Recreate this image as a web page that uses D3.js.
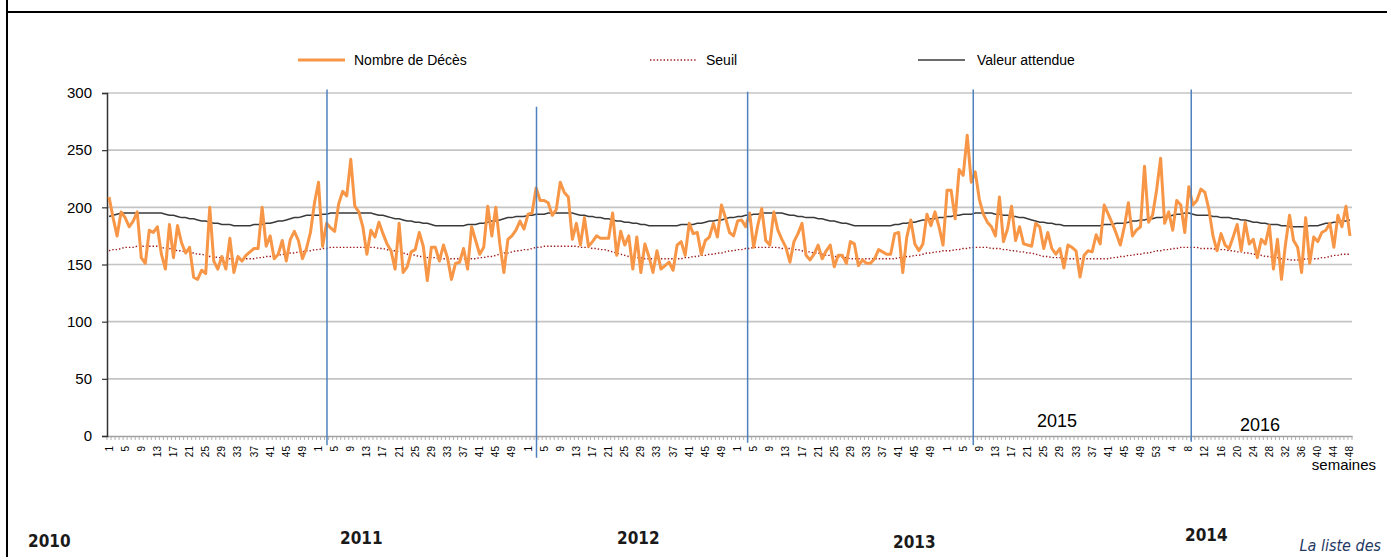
<!DOCTYPE html>
<html>
<head>
<meta charset="utf-8">
<script src="https://cdn.jsdelivr.net/npm/d3@7"></script>
<style>
  body { margin: 0; background: #fff; }
  svg { display: block; font-family: "Liberation Sans", Arial, sans-serif; }
</style>
</head>
<body>
<svg id="chart"></svg>
<script>
// weeks per year on the category axis
const yearLengths = [52, 52, 52, 52, 53, 48];

// weekly deaths
const deces = [
  209,191,175,196,191,183,188,196,156,151, 180,178,183,159,146,185,156,184,169,160,
  165,139,137,145,142,200,153,146,157,146, 173,143,157,153,158,161,164,164,200,166,
  175,155,159,171,153,172,179,171,155,164, 178,204,222,166,186,182,179,203,214,210,
  242,201,196,183,159,180,174,187,177,168, 162,146,186,143,148,161,163,178,166,136,
  165,165,153,167,156,137,151,152,164,146, 183,171,159,165,201,175,200,168,143,172,
  175,180,188,181,194,195,217,206,206,204, 193,198,222,213,209,172,186,167,191,166,
  170,175,173,173,173,195,158,179,167,175, 146,174,143,168,157,143,162,146,149,152,
  145,167,170,158,186,177,178,159,171,174, 186,174,202,191,178,175,188,189,183,195,
  165,184,199,171,167,196,180,172,165,152, 170,177,186,158,154,159,167,155,162,167,
  148,158,158,151,170,168,149,154,151,151, 155,163,161,159,159,177,178,143,174,189,
  168,162,168,194,184,196,183,167,215,215, 190,233,228,263,222,231,207,194,187,183,
  175,209,170,181,201,171,183,168,167,166, 186,183,164,178,164,159,164,147,167,165,
  162,139,158,162,161,176,168,202,194,186, 177,167,183,204,175,180,183,236,187,193,
  215,243,186,196,180,206,202,178,218,202, 206,216,213,198,175,162,177,167,164,174,
  185,162,187,168,172,156,172,168,184,146, 172,137,168,193,171,165,143,191,151,174,
  170,178,180,186,165,193,183,201,175
];

// expected value, one list per year
const attendue1 = [192,193,194,195,195,195,195,195,195,195, 195,195,195,195,194,193,193,192,191,191,
  190,190,189,188,188,187,186,186,185,185, 185,184,184,184,184,184,185,185,185,186,
  186,187,188,188,189,190,191,191,192,193, 193,193];
const attendue2 = [193,194,194,195,195,195,195,195,195,195, 195,195,195,195,194,193,193,192,191,190,
  190,189,188,188,187,187,186,186,185,184, 184,184,184,184,184,184,184,185,185,185,
  186,186,187,188,188,189,190,191,191,192, 192,192];
const attendue3 = [193,193,194,194,194,195,195,195,195,195, 195,195,194,193,193,192,192,191,191,190,
  190,189,188,188,187,187,186,186,185,185, 184,184,184,184,184,184,184,184,185,185,
  185,185,186,186,187,188,188,189,189,190, 191,191];
const attendue4 = [192,192,193,193,194,194,195,195,195,195, 195,195,194,193,193,192,192,191,191,191,
  190,190,189,188,188,187,186,186,185,184, 184,184,184,184,184,184,184,184,184,185,
  185,186,186,187,187,188,189,189,190,190, 191,191];
const attendue5 = [192,192,193,193,194,194,194,195,195,195, 195,195,194,194,193,193,192,192,191,191,
  190,189,188,187,187,186,186,185,185,184, 184,184,184,184,184,184,184,184,184,185,
  185,185,186,186,186,187,188,188,189,189, 190,190,191];
const attendue6 = [191,192,192,193,194,194,195,195,194,193, 193,193,193,192,192,191,191,191,190,190,
  189,189,188,187,187,186,186,185,185,185, 184,184,183,183,183,183,183,184,184,184,
  185,186,186,187,187,188,188,189];

// alert threshold, one list per year
const seuil1 = [162,163,163,164,165,165,165,166,166,166, 166,166,166,165,164,164,163,162,162,161,
  160,160,159,159,158,157,157,156,156,156, 155,155,155,155,155,155,155,156,156,157,
  157,158,158,159,159,160,160,161,161,162, 162,163];
const seuil2 = [163,164,164,165,165,165,165,165,165,165, 165,165,165,165,165,164,164,163,162,162,
  161,160,159,159,158,157,157,156,156,156, 155,155,155,155,155,155,155,155,155,155,
  156,156,157,157,158,159,160,160,161,162, 162,163];
const seuil3 = [163,164,165,165,166,166,166,166,166,166, 166,166,166,165,165,165,164,164,163,163,
  162,161,160,159,158,157,157,156,156,155, 155,155,155,155,155,155,155,155,155,156,
  156,157,157,158,158,159,159,160,160,161, 162,162];
const seuil4 = [163,163,164,164,165,165,165,165,165,165, 165,164,164,164,163,163,162,161,161,160,
  160,159,158,158,157,157,156,156,155,155, 155,155,155,155,155,155,155,155,155,155,
  156,156,157,157,158,158,159,160,160,161, 161,162];
const seuil5 = [162,162,163,163,164,164,165,165,165,165, 165,164,164,164,163,163,162,162,161,161,
  160,160,159,158,157,157,156,156,156,155, 155,155,155,155,155,155,155,155,155,155,
  155,156,156,157,157,158,158,159,159,160, 160,161,162];
const seuil6 = [162,163,163,164,164,165,165,165,165,165, 164,164,164,164,163,163,163,162,162,161,
  161,160,160,159,159,158,157,157,156,156, 155,155,154,154,154,154,155,155,155,155,
  156,156,157,158,158,159,159,159];

const attendue = [].concat(attendue1, attendue2, attendue3, attendue4, attendue5, attendue6);
const seuil = [].concat(seuil1, seuil2, seuil3, seuil4, seuil5, seuil6);

const yTicks = [0, 50, 100, 150, 200, 250, 300];
const legendLabels = ['Nombre de Décès', 'Seuil', 'Valeur attendue'];

// hand drawn blue year separators: category position, top and bottom value
const separators = [
  {at: 54.1, top: 303, bottom: -8},
  {at: 106.1, top: 288, bottom: -19},
  {at: 158.5, top: 301, bottom: -6},
  {at: 214.5, top: 303, bottom: -8},
  {at: 268.6, top: 303, bottom: -5}
];
const innerYears = ['2015', '2016'];
const bottomYears = ['2010', '2011', '2012', '2013', '2014'];
const footNote = 'La liste des';

class DeathChart {

    margin = {top: 93, bottom: 121, left: 107, right: 35}

    constructor(svg, width=1387, height=557) {
        this.svg = svg;
        this.width = width;
        this.height = height;
    }

    initialize() {
        this.svg = d3.select(this.svg)
            .attr('width', this.width)
            .attr('height', this.height);

        // week number of every category
        this.weeks = [];
        yearLengths.forEach(n => {
            for (let w = 1; w <= n; w++) this.weeks.push(w);
        });

        this.xScale = d3.scaleBand()
            .domain(d3.range(this.weeks.length))
            .range([this.margin.left, this.width - this.margin.right]);
        this.yScale = d3.scaleLinear()
            .domain([0, 300])
            .range([this.height - this.margin.bottom, this.margin.top]);

        this.frame = this.svg.append('g');
        this.grid = this.svg.append('g');
        this.xAxis = this.svg.append('g');
        this.yAxis = this.svg.append('g');
        this.lines = this.svg.append('g');
        this.notes = this.svg.append('g');
        this.legend = this.svg.append('g');
    }

    cx(i) {
        return this.xScale(0) + (i + 0.5) * this.xScale.bandwidth();
    }

    update() {
        const x0 = this.margin.left, x1 = this.width - this.margin.right;
        const yBase = this.yScale(0);

        // page frame
        this.frame.append('line')
            .attr('x1', 7).attr('x2', 7).attr('y1', 0).attr('y2', this.height)
            .attr('stroke', '#000').attr('stroke-width', 2);
        this.frame.append('line')
            .attr('x1', 7).attr('x2', this.width).attr('y1', 12).attr('y2', 12)
            .attr('stroke', '#000').attr('stroke-width', 2);

        // gridlines
        this.grid.selectAll('line')
            .data(yTicks.filter(d => d > 0))
            .enter()
            .append('line')
                .attr('x1', x0).attr('x2', x1)
                .attr('y1', d => this.yScale(d)).attr('y2', d => this.yScale(d))
                .attr('stroke', '#c4c4c4').attr('stroke-width', 1.6);

        // x axis: tick per category, label every 4th
        this.xAxis
            .attr('transform', `translate(0, ${yBase})`)
            .call(d3.axisBottom(this.xScale).tickSize(0).tickFormat(''));
        this.xAxis.select('.domain').attr('stroke', '#a0a0a0').attr('stroke-width', 1.5);
        this.xAxis.selectAll('.tickmark')
            .data(d3.range(this.weeks.length + 1))
            .enter()
            .append('line')
                .attr('class', 'tickmark')
                .attr('x1', d => this.xScale(0) + d * this.xScale.bandwidth())
                .attr('x2', d => this.xScale(0) + d * this.xScale.bandwidth())
                .attr('y1', 0).attr('y2', 4)
                .attr('stroke', '#a0a0a0').attr('stroke-width', 0.8);
        this.xAxis.selectAll('.wk')
            .data(d3.range(0, this.weeks.length, 4))
            .enter()
            .append('text')
                .attr('class', 'wk')
                .attr('transform', d => `translate(${this.cx(d)}, 10) rotate(-90)`)
                .attr('text-anchor', 'end')
                .attr('dy', '0.35em')
                .attr('font-size', '10px')
                .attr('fill', '#000')
                .text(d => this.weeks[d]);

        // y axis
        this.yAxis
            .attr('transform', `translate(${x0}, 0)`)
            .call(d3.axisLeft(this.yScale).tickValues(yTicks).tickSize(5).tickPadding(10));
        this.yAxis.select('.domain').attr('stroke', '#333').attr('stroke-width', 1.5);
        this.yAxis.selectAll('.tick line').attr('stroke', '#333').attr('stroke-width', 1.2);
        this.yAxis.selectAll('.tick text')
            .attr('font-size', '15px')
            .attr('font-family', '"Liberation Sans", Arial, sans-serif')
            .attr('fill', '#000');

        // series
        const line = d3.line()
            .x((d, i) => this.cx(i))
            .y(d => this.yScale(d));

        this.lines.append('path')
            .datum(seuil)
            .attr('d', line)
            .attr('fill', 'none')
            .attr('stroke', '#9c1c1c')
            .attr('stroke-width', 1.4)
            .attr('stroke-dasharray', '1.4 2');
        this.lines.append('path')
            .datum(attendue)
            .attr('d', line)
            .attr('fill', 'none')
            .attr('stroke', '#3a3a3a')
            .attr('stroke-width', 1.5);
        this.lines.append('path')
            .datum(deces)
            .attr('d', line)
            .attr('fill', 'none')
            .attr('stroke', '#f79646')
            .attr('stroke-width', 3)
            .attr('stroke-linejoin', 'round');

        // blue separators
        this.lines.selectAll('.sep')
            .data(separators)
            .enter()
            .append('line')
                .attr('class', 'sep')
                .attr('x1', d => this.cx(d.at)).attr('x2', d => this.cx(d.at))
                .attr('y1', d => this.yScale(d.top)).attr('y2', d => this.yScale(d.bottom))
                .attr('stroke', '#4f81bd').attr('stroke-width', 1.5);

        // legend
        const legendX = [298, 650, 918];
        const legendStyle = [
            {stroke: '#f79646', width: 3, dash: null},
            {stroke: '#9c1c1c', width: 1.4, dash: '1.4 2'},
            {stroke: '#3a3a3a', width: 1.5, dash: null}
        ];
        const items = this.legend.selectAll('g')
            .data(legendLabels)
            .enter()
            .append('g')
                .attr('transform', (d, i) => `translate(${legendX[i]}, 60)`);
        items.append('line')
            .attr('x1', 0).attr('x2', 47)
            .attr('stroke', (d, i) => legendStyle[i].stroke)
            .attr('stroke-width', (d, i) => legendStyle[i].width)
            .attr('stroke-dasharray', (d, i) => legendStyle[i].dash);
        items.append('text')
            .attr('x', (d, i) => i == 2 ? 59 : 56)
            .attr('dy', '0.35em')
            .attr('font-size', '14px')
            .text(d => d);

        // text notes
        this.notes.append('text')
            .attr('x', 1037).attr('y', yBase - 9)
            .attr('font-size', '18px')
            .text(innerYears[0]);
        this.notes.append('text')
            .attr('x', 1240).attr('y', yBase - 5)
            .attr('font-size', '18px')
            .text(innerYears[1]);
        this.notes.append('text')
            .attr('x', 1376).attr('y', 470)
            .attr('text-anchor', 'end')
            .attr('font-size', '15px')
            .text('semaines');

        const bottomX = [28, 340, 617, 893, 1185];
        const bottomY = [547, 544, 544, 548, 541];
        this.notes.selectAll('.yr')
            .data(bottomYears)
            .enter()
            .append('text')
                .attr('class', 'yr')
                .attr('x', (d, i) => bottomX[i])
                .attr('y', (d, i) => bottomY[i])
                .attr('font-family', '"DejaVu Sans Condensed", "Liberation Sans", sans-serif')
                .attr('font-stretch', 'condensed')
                .attr('font-weight', 'bold')
                .attr('font-size', '17px')
                .attr('fill', '#1a1a1a')
                .text(d => d);

        this.notes.append('text')
            .attr('x', 1381).attr('y', 551)
            .attr('text-anchor', 'end')
            .attr('font-family', '"DejaVu Sans Condensed", "Liberation Sans", sans-serif')
            .attr('font-stretch', 'condensed')
            .attr('font-style', 'italic')
            .attr('font-size', '16px')
            .attr('fill', '#1f3864')
            .text(footNote);
    }
}

const chart = new DeathChart('#chart');
chart.initialize();
chart.update();
</script>
</body>
</html>
